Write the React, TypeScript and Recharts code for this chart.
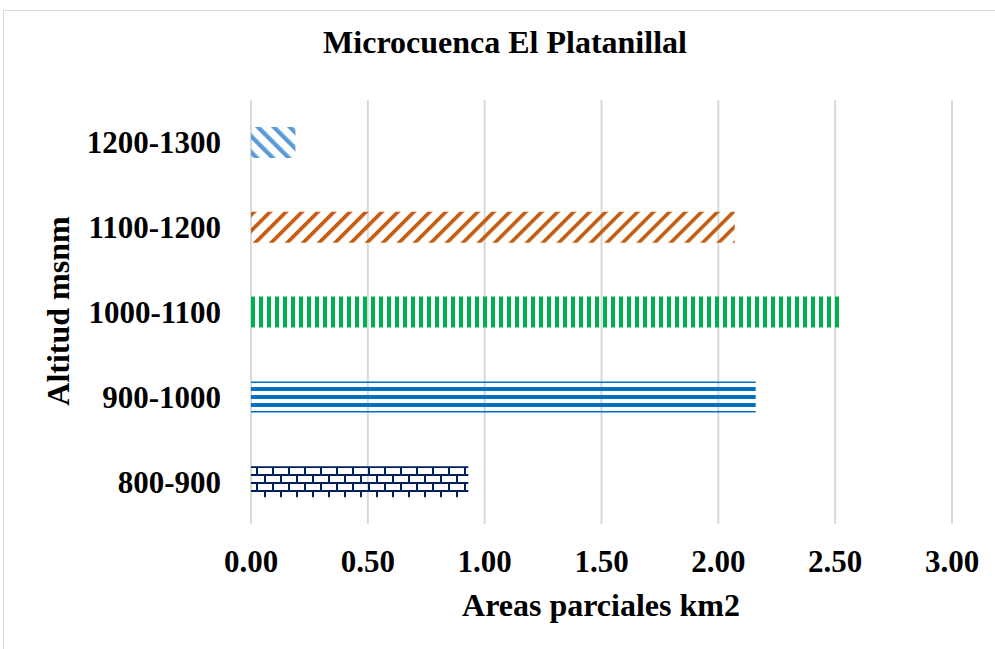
import { BarChart, Bar, XAxis, YAxis, CartesianGrid, Cell } from 'recharts'

const altitudes = ['800-900', '900-1000', '1000-1100', '1100-1200', '1200-1300']
const areas = [0.93, 2.16, 2.52, 2.07, 0.19]
const patternIds = ['ladrillo', 'horizontal', 'vertical', 'diagonalNaranja', 'diagonalAzul']
const xTicks = [0, 0.5, 1, 1.5, 2, 2.5, 3]

const data = altitudes.map((alt, i) => ({ alt, area: areas[i] }))

const FONT = '"Liberation Serif", "Times New Roman", serif'

const textStyle: React.CSSProperties = {
  position: 'absolute',
  fontFamily: FONT,
  fontWeight: 'bold',
  fontSize: 32,
  lineHeight: '32px',
  whiteSpace: 'nowrap',
  color: '#000',
}

export default function App() {
  return (
    <div style={{ position: 'absolute', left: 0, top: 0, width: 995, height: 649, background: '#fff', overflow: 'hidden' }}>
      <div style={{ position: 'absolute', left: 3, top: 10, width: 1000, height: 700, border: '1px solid #d9d9d9' }} />
      <BarChart
        width={995}
        height={649}
        data={data}
        layout="vertical"
        margin={{ top: 100, right: 43, bottom: 65, left: 0 }}
        barSize={31}
        style={{ position: 'absolute', left: 0, top: 0 }}
      >
        <defs>
          <pattern id="diagonalAzul" patternUnits="userSpaceOnUse" width={11.3} height={11.3} patternTransform="rotate(-45)">
            <rect x={0} y={0} width={4.3} height={11.3} fill="#5B9BD5" />
          </pattern>
          <pattern id="diagonalNaranja" patternUnits="userSpaceOnUse" width={11.3} height={11.3} patternTransform="rotate(45)">
            <rect x={0} y={0} width={3.6} height={11.3} fill="#C55A11" />
          </pattern>
          <pattern id="vertical" patternUnits="userSpaceOnUse" x={3} width={8} height={8}>
            <rect x={0} y={0} width={4} height={8} fill="#00B050" />
          </pattern>
          <pattern id="horizontal" patternUnits="userSpaceOnUse" y={3} width={8} height={8}>
            <rect x={0} y={0} width={8} height={4} fill="#0070C0" />
          </pattern>
          <pattern id="ladrillo" patternUnits="userSpaceOnUse" y={2} width={16} height={16}>
            <rect x={0} y={0} width={16} height={2} fill="#002060" />
            <rect x={0} y={8} width={16} height={2} fill="#002060" />
            <rect x={0} y={2} width={2} height={6} fill="#002060" />
            <rect x={8} y={10} width={2} height={6} fill="#002060" />
          </pattern>
        </defs>
        <CartesianGrid horizontal={false} stroke="#d9d9d9" strokeWidth={2} />
        <XAxis
          type="number"
          domain={[0, 3]}
          ticks={xTicks}
          tickFormatter={(v: number) => v.toFixed(2)}
          axisLine={false}
          tickLine={false}
          tickSize={0}
          tickMargin={26}
          height={60}
          tick={{ fontSize: 31, fontWeight: 'bold', fontFamily: FONT, fill: '#000' }}
        />
        <YAxis
          type="category"
          dataKey="alt"
          reversed
          width={251}
          axisLine={false}
          tickLine={false}
          tickSize={0}
          tickMargin={30}
          tick={{ fontSize: 31, fontWeight: 'bold', fontFamily: FONT, fill: '#000' }}
        />
        <Bar dataKey="area" isAnimationActive={false}>
          {data.map((d, i) => (
            <Cell key={d.alt} fill={`url(#${patternIds[i]})`} />
          ))}
        </Bar>
      </BarChart>
      <div style={{ ...textStyle, left: 505, top: 26, transform: 'translateX(-50%)' }}>Microcuenca El Platanillal</div>
      <div style={{ ...textStyle, left: 601, top: 589, transform: 'translateX(-50%)' }}>Areas parciales km2</div>
      <div style={{ ...textStyle, left: 58, top: 311, transform: 'translate(-50%, -50%) rotate(-90deg)' }}>Altitud msnm</div>
    </div>
  )
}
